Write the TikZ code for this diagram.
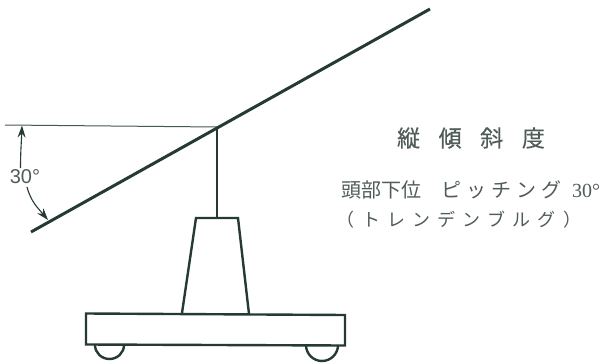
\documentclass[tikz,border=0pt]{standalone}
\usepackage{fontspec}
\setmainfont{Liberation Sans}
\newfontfamily\jpfont{Noto Sans CJK JP}
\newfontfamily\jptitle[LetterSpace=81,FakeBold=0.25]{Noto Sans CJK JP}
\newfontfamily\jpkana[LetterSpace=40]{Noto Sans CJK JP}
\newfontfamily\jppitch[LetterSpace=25]{Noto Sans CJK JP}
\newfontfamily\numfont{Liberation Serif}
\definecolor{ink}{RGB}{38,58,52}
\definecolor{txt}{RGB}{80,92,88}
\usetikzlibrary{arrows.meta}
\tikzset{
  heavy/.style={draw=ink,line width=3pt},
  mid/.style={draw=ink,line width=2.4pt,line join=miter},
  thin line/.style={draw=ink!85,line width=1pt},
  dim/.style={draw=ink,line width=1.1pt,-{Stealth[length=12pt,width=8pt]}},
  label/.style={inner sep=0pt,text=txt,anchor=center}
}
\begin{document}
\begin{tikzpicture}[x=1pt,y=-1pt]
\useasboundingbox (0,0) rectangle (616,364);
\coordinate (beamL) at (31,232);
\coordinate (beamR) at (430,9);
\coordinate (pivot) at (217,127);
\coordinate (refL) at (5,125);
\coordinate (postB) at (217,218);
% wheels
\draw[mid] (95,345) arc[start angle=180,end angle=0,x radius=14.5,y radius=14];
\draw[mid] (306,345) arc[start angle=180,end angle=0,x radius=16,y radius=16];
% base and pedestal
\draw[mid] (86,313.5) -- (345,315) -- (345,345.5) -- (86,344.5) -- cycle;
\draw[mid] (182,313) -- (196,218) -- (238,218) -- (249,314);
% post, beam, reference
\draw[mid] (pivot) -- (postB);
\draw[thin line] (refL) -- (pivot);
\draw[heavy] (beamL) -- (beamR);
% angle
\node[label,font=\fontsize{20}{20}\selectfont] (ang) at (25,177) {30°};
\coordinate (angT) at (22,125.5);
\coordinate (angB) at (48,220);
\coordinate (angS) at (20.5,168);
\coordinate (angE) at (27,187);
\draw[dim] (angS) to[out=90,in=268] (angT);
\draw[dim] (angE) to[out=285,in=130] (angB);
% text
\node[label,font=\fontsize{23}{23}\selectfont\jptitle] (t1) at (471,138) {縦傾斜度};
\node[label,font=\fontsize{20}{20}\selectfont\jpfont] (t2) at (470.5,190) {頭部下位\hspace{20pt}{\jppitch ピッチング}\hspace{11pt}{\numfont 30°}};
\node[label,font=\fontsize{18}{18}\selectfont\jpkana] (t3) at (459,220) {（トレンデンブルグ）};
\end{tikzpicture}
\end{document}
